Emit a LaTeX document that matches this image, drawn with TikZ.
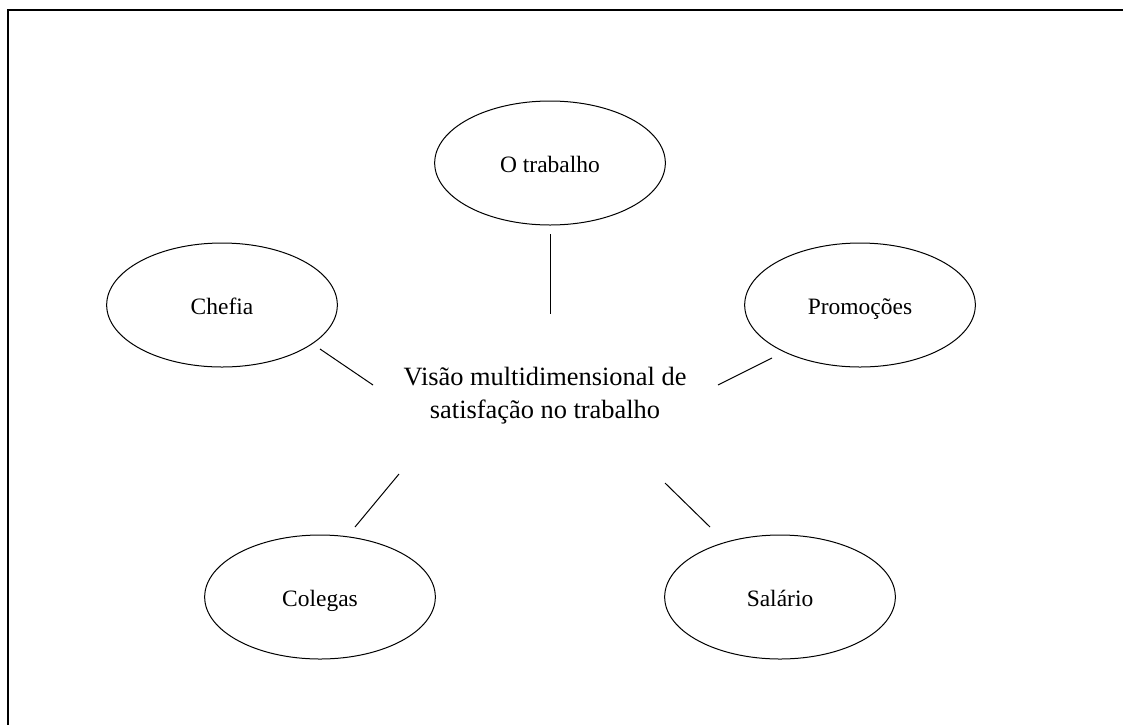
\documentclass[tikz,border=0pt]{standalone}
\usepackage{fontspec}
\setmainfont{Liberation Serif}
\usetikzlibrary{shapes.geometric}
\begin{document}
\begin{tikzpicture}[x=0.75pt,y=-0.75pt,
  dim/.style={ellipse,draw,line width=0.75pt,minimum width=173pt,minimum height=93pt,inner sep=0pt,text height=13.5pt,text depth=0pt,font=\fontsize{17.6pt}{21pt}\selectfont},
  link/.style={line width=0.75pt},
  frame/.style={line width=1.5pt}]
\useasboundingbox (0,0) rectangle (1123,725);
% open frame (top and left edges)
\coordinate (fTR) at (1123,10.3);
\coordinate (fTL) at (8.3,10.3);
\coordinate (fBL) at (8.3,725);
\draw[frame] (fTR) -- (fTL) -- (fBL);
% centre text
\node[align=center,inner sep=0pt,font=\fontsize{19.8pt}{24.75pt}\selectfont] (centre) at (545,396)
  {Visão multidimensional de\\satisfação no trabalho};
% dimensions
\node[dim] (trab) at (550,163) {O trabalho};
\node[dim] (chefia) at (222,305) {Chefia};
\node[dim] (promo) at (860,305) {Promoções};
\node[dim] (colegas) at (320,597) {Colegas};
\node[dim] (salario) at (780,597) {Salário};
% connector end points
\coordinate (t1) at (550,234); \coordinate (t2) at (550,314);
\coordinate (c1) at (320,349); \coordinate (c2) at (373,385);
\coordinate (p1) at (772,358); \coordinate (p2) at (718,385);
\coordinate (g1) at (399,474); \coordinate (g2) at (355,527);
\coordinate (s1) at (665,483); \coordinate (s2) at (710,527);
\draw[link] (t1) -- (t2);
\draw[link] (c1) -- (c2);
\draw[link] (p1) -- (p2);
\draw[link] (g1) -- (g2);
\draw[link] (s1) -- (s2);
\end{tikzpicture}
\end{document}
